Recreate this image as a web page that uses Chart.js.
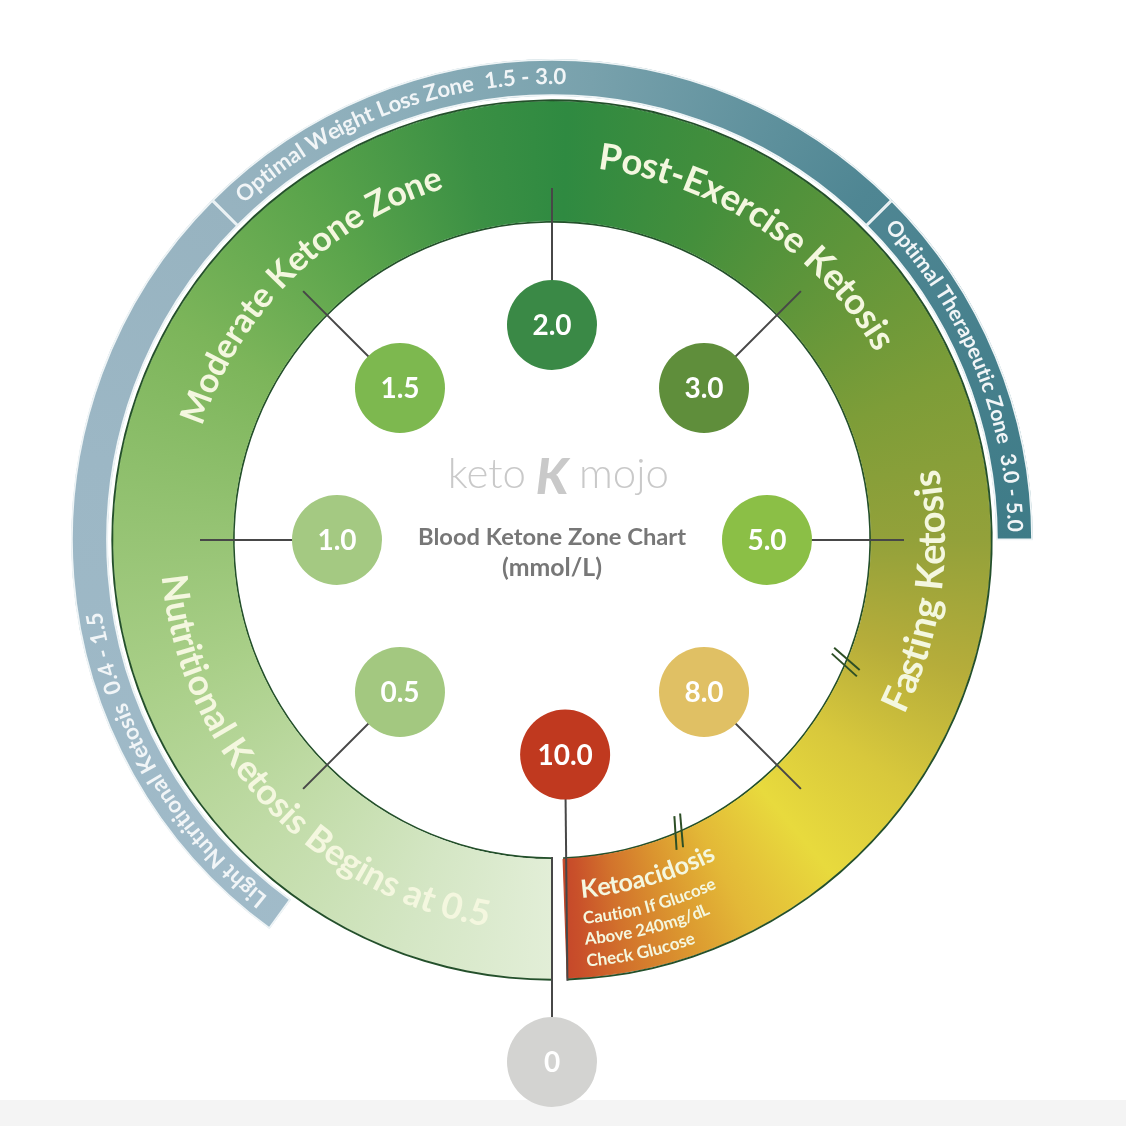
<!DOCTYPE html>
<html>
<head>
<meta charset="utf-8">
<title>Blood Ketone Zone Chart</title>
<script src="https://cdn.jsdelivr.net/npm/chart.js@4.4.0/dist/chart.umd.min.js"></script>
<style>
    html, body { margin: 0; padding: 0; background: #ffffff; }
    #wrap { position: relative; width: 1126px; height: 1126px; overflow: hidden; }
    #wrap canvas { position: absolute; left: 0; top: 0; }
    #floor { position: absolute; left: 0; right: 0; top: 1100px; bottom: 0; background: #f4f4f4; }
</style>
</head>
<body>
<div id="wrap">
    <div id="floor"></div>
    <canvas id="ringChart" width="1126" height="1126"></canvas>
    <canvas id="markerChart" width="1126" height="1126"></canvas>
</div>
<script>
// Readings shown round the dial (mmol/L), one eighth of the dial apart
const tickValues = [0, 0.5, 1.0, 1.5, 2.0, 3.0, 5.0, 8.0, 10.0];
const tickLabels = ['0', '0.5', '1.0', '1.5', '2.0', '3.0', '5.0', '8.0', '10.0'];

// Outer blue bands
const bandNames = ['Light Nutritional Ketosis  0.4 - 1.5', 'Optimal Weight Loss Zone  1.5 - 3.0', 'Optimal Therapeutic Zone  3.0 - 5.0'];
const bandRanges = [[0.4, 1.5], [1.5, 3.0], [3.0, 5.0]];

// Coloured ring zones
const zoneNames = ['Nutritional Ketosis Begins at 0.5', 'Moderate Ketone Zone', 'Post-Exercise Ketosis', 'Fasting Ketosis', 'Ketoacidosis'];
const zoneRanges = [[0, 1.0], [1.0, 2.0], [2.0, 5.0], [5.0, 8.7], [8.7, 10.0]];
const ketoNotes = ['Caution If Glucose', 'Above 240mg/dL', 'Check Glucose'];

// Scale breaks drawn on the inner edge of the ring
const scaleBreaks = [[5.0, 8.0], [8.0, 10.0]];

// Styling
const markerColors = ['#d3d3d1', '#a3c880', '#a4c982', '#7db84f', '#3a8946', '#5f8e3b', '#8bbf46', '#e0c064', '#c0391f'];
const STEP = 45;        // degrees between two readings
const RING_END = 358;   // the ring stops short of the bottom, leaving a slit
const CX = 552, CY = 540;
const MARKER_R = 215, ZERO_R = 522;
const RING_IN = 317, RING_OUT = 441;

// degrees clockwise from the bottom of the dial
function angleOf(v) {
    for (let i = 0; i < tickValues.length - 1; i++) {
        if (v <= tickValues[i + 1]) {
            const t = (v - tickValues[i]) / (tickValues[i + 1] - tickValues[i]);
            return Math.min((i + t) * STEP, RING_END);
        }
    }
    return RING_END;
}

function polar(r, deg) {
    const a = deg * Math.PI / 180;
    return { x: -r * Math.sin(a), y: -r * Math.cos(a) };
}

const gradCache = {};
function conic(chart, key, stops) {
    if (!gradCache[key]) {
        const g = chart.ctx.createConicGradient(Math.PI / 2, CX, CY);
        stops.forEach(s => g.addColorStop(s[0] / 360, s[1]));
        gradCache[key] = g;
    }
    return gradCache[key];
}

const greenStops = [
    [0, '#e2eed7'], [20, '#d4e6c4'], [45, '#c0dba6'], [70, '#a9cf88'], [90, '#97c475'],
    [120, '#7cb55a'], [145, '#5aa44b'], [168, '#3b9044'], [182, '#2f8a41'], [205, '#448f3c'],
    [225, '#5e953a'], [248, '#7d9d38'], [270, '#93a13a'], [288, '#b6ad3a'], [305, '#d8c83c'],
    [320, '#e8da3d'], [333, '#e3b837'], [342, '#db952f'], [350, '#d2722c'], [356, '#c9502a'], [360, '#c2402a']
];
const blueStops = [
    [0, '#a3bdcb'], [100, '#9cb7c5'], [136, '#97b3c0'], [160, '#8caeba'], [185, '#78a1ac'],
    [210, '#5c8f9b'], [222, '#4f8693'], [270, '#3e7b87'], [360, '#3e7b87']
];

// ---- ring chart ----
const bandSpans = [angleOf(bandRanges[0][0])];
bandRanges.forEach(r => bandSpans.push(angleOf(r[1]) - angleOf(r[0])));
bandSpans.push(360 - angleOf(bandRanges[bandRanges.length - 1][1]));

const zoneSpans = zoneRanges.map(r => angleOf(r[1]) - angleOf(r[0]));
zoneSpans.push(360 - RING_END);

const clear = 'rgba(0,0,0,0)';
const lastBand = bandSpans.length - 1;
const lastZone = zoneSpans.length - 1;

function drawArcText(ctx, cx, cy, o) {
    const cw = o.to > o.from;
    let size = o.size || 30;
    ctx.font = `${o.weight} ${size}px ${o.family}`;
    if (o.fit !== false) {
        const want = Math.abs(o.to - o.from) * Math.PI / 180 * o.r;
        size = size * want / ctx.measureText(o.text).width;
        ctx.font = `${o.weight} ${size}px ${o.family}`;
    }
    ctx.fillStyle = o.color;
    ctx.textAlign = 'center';
    ctx.textBaseline = 'alphabetic';
    const phi0 = (90 + o.from) * Math.PI / 180;
    for (let i = 0; i < o.text.length; i++) {
        const ch = o.text[i];
        const pre = ctx.measureText(o.text.slice(0, i)).width;
        const w = ctx.measureText(ch).width;
        const d = (pre + w / 2) / o.r;
        const phi = cw ? phi0 + d : phi0 - d;
        ctx.save();
        ctx.translate(cx + o.r * Math.cos(phi), cy + o.r * Math.sin(phi));
        ctx.rotate(cw ? phi + Math.PI / 2 : phi - Math.PI / 2);
        ctx.fillText(ch, 0, 0);
        ctx.restore();
    }
}

function fitText(ctx, text, weight, family, width) {
    ctx.font = `${weight} 20px ${family}`;
    const s = 20 * width / ctx.measureText(text).width;
    ctx.font = `${weight} ${s}px ${family}`;
}

const ringTextPlugin = {
    id: 'ringText',
    afterDatasetsDraw(chart) {
        const ctx = chart.ctx;
        const cx = CX, cy = CY;
        const band = '#f1f5f7', cream = '#f4f7df';
        ctx.save();
        // blue band titles
        drawArcText(ctx, cx, cy, { text: bandNames[0], r: 456, from: 38.5, to: 81, weight: 700, family: 'Lato', color: band });
        drawArcText(ctx, cx, cy, { text: bandNames[1], r: 456, from: 137.5, to: 181.8, weight: 700, family: 'Lato', color: band });
        drawArcText(ctx, cx, cy, { text: bandNames[2], r: 456, from: 226.8, to: 269, weight: 700, family: 'Lato', color: band });
        // zone titles
        drawArcText(ctx, cx, cy, { text: zoneNames[0], r: 392, from: 84.7, to: 9.4, weight: 700, family: 'Lato', color: cream });
        drawArcText(ctx, cx, cy, { text: zoneNames[1], r: 368, from: 108, to: 163, weight: 700, family: 'Lato', color: cream });
        drawArcText(ctx, cx, cy, { text: zoneNames[2], r: 374, from: 187, to: 240, weight: 700, family: 'Lato', color: cream });
        drawArcText(ctx, cx, cy, { text: zoneNames[3], r: 393, from: 296.4, to: 259.5, weight: 700, family: 'Lato', color: cream });
        drawArcText(ctx, cx, cy, { text: zoneNames[4], r: 359, from: 355.3, to: 332.7, weight: 700, family: 'Lato', color: cream });
        drawArcText(ctx, cx, cy, { text: ketoNotes[0], r: 385, from: 355.3, to: 334.6, weight: 700, family: 'Lato', color: cream });
        drawArcText(ctx, cx, cy, { text: ketoNotes[1], r: 406, from: 355.3, to: 337, weight: 700, family: 'Lato', color: cream });
        drawArcText(ctx, cx, cy, { text: ketoNotes[2], r: 428, from: 355.3, to: 340.3, weight: 700, family: 'Lato', color: cream });

        // centre logo and title
        ctx.fillStyle = '#c9c9c9';
        ctx.textBaseline = 'alphabetic';
        ctx.font = '300 42px Lato';
        ctx.textAlign = 'right';
        ctx.fillText('keto', cx - 26, cy - 52);
        ctx.textAlign = 'left';
        ctx.fillText('mojo', cx + 27, cy - 52);
        ctx.textAlign = 'center';
        ctx.font = 'italic 900 50px Lato';
        ctx.fillText('K', cx, cy - 46);

        ctx.fillStyle = '#777777';
        fitText(ctx, 'Blood Ketone Zone Chart', 700, 'Lato', 268);
        ctx.fillText('Blood Ketone Zone Chart', cx, cy + 5);
        fitText(ctx, '(mmol/L)', 700, 'Lato', 100);
        ctx.fillText('(mmol/L)', cx, cy + 36);
        ctx.restore();
    }
};

const ringChart = new Chart(document.getElementById('ringChart'), {
    type: 'doughnut',
    data: {
        labels: bandSpans.map((_, i) => i),
        datasets: [
            {
                // blue bands
                data: bandSpans,
                weight: 37,
                backgroundColor: c => (c.dataIndex === 0 || c.dataIndex === lastBand) ? clear : conic(c.chart, 'blue', blueStops),
                borderColor: '#eef4f6',
                borderWidth: bandSpans.map((_, i) => (i === 0 || i === lastBand) ? 0 : 1.5),
                borderAlign: 'inner'
            },
            { data: [360], weight: 3, backgroundColor: clear, borderWidth: 0, borderAlign: 'inner' },
            { data: [RING_END, 360 - RING_END], weight: 2.5, backgroundColor: ['#24502b', clear], borderWidth: 0, borderAlign: 'inner' },
            {
                // coloured zones, stroked in their own colour so no seams show between them
                data: zoneSpans,
                weight: 119,
                backgroundColor: c => c.dataIndex === lastZone ? clear : conic(c.chart, 'green', greenStops),
                borderColor: c => c.dataIndex === lastZone ? clear : conic(c.chart, 'green', greenStops),
                borderWidth: zoneSpans.map((_, i) => i === lastZone ? 0 : 1.2),
                borderAlign: 'center'
            },
            { data: [RING_END, 360 - RING_END], weight: 2.5, backgroundColor: ['#24502b', clear], borderWidth: 0, borderAlign: 'inner' }
        ]
    },
    options: {
        responsive: false,
        animation: false,
        events: [],
        rotation: 180,
        cutout: RING_IN,
        layout: { padding: { left: CX - 481, top: CY - 481, right: 1126 - CX - 481, bottom: 1126 - CY - 481 } },
        plugins: { legend: { display: false }, tooltip: { enabled: false } }
    },
    plugins: [ringTextPlugin]
});

// ---- markers, spokes and breaks ----
const lastTick = tickValues.length - 1;
// the top reading sits just past the slit, so nudge it onto the red end of the ring
function markerAngle(i) {
    return i === lastTick ? RING_END - 1.5 : angleOf(tickValues[i]);
}
const markerPoints = tickValues.map((v, i) => polar(i === 0 ? ZERO_R : MARKER_R, markerAngle(i)));

const lineSets = tickValues.map((v, i) => {
    const deg = markerAngle(i);
    let from = polar(MARKER_R, deg), to = polar(352, deg);
    if (i === 0) { from = polar(RING_IN, deg); to = polar(ZERO_R, deg); }
    if (i === lastTick) { to = polar(RING_OUT, RING_END); }
    return {
        type: 'scatter',
        data: [from, to],
        showLine: true,
        borderColor: '#474747',
        borderWidth: 2,
        pointRadius: 0,
        order: 1
    };
});

scaleBreaks.forEach(b => {
    const mid = (angleOf(b[0]) + angleOf(b[1])) / 2;
    [-0.6, 0.6].forEach(d => {
        lineSets.push({
            type: 'scatter',
            data: [polar(302, mid + d - 1.0), polar(334, mid + d + 1.0)],
            showLine: true,
            borderColor: '#2d4f26',
            borderWidth: 2,
            pointRadius: 0,
            order: 1
        });
    });
});

const markerTextPlugin = {
    id: 'markerText',
    afterDatasetsDraw(chart) {
        const ctx = chart.ctx;
        const meta = chart.getDatasetMeta(0);
        ctx.save();
        ctx.fillStyle = '#ffffff';
        ctx.textAlign = 'center';
        ctx.textBaseline = 'middle';
        ctx.font = 'bold 28px Lato';
        meta.data.forEach((pt, i) => {
            ctx.fillText(tickLabels[i], pt.x, pt.y + 1);
        });
        ctx.restore();
    }
};

const markerChart = new Chart(document.getElementById('markerChart'), {
    type: 'scatter',
    data: {
        datasets: [
            {
                data: markerPoints,
                pointRadius: 45,
                pointHoverRadius: 45,
                pointBackgroundColor: markerColors,
                pointBorderWidth: 0,
                order: 0,
                clip: false
            }
        ].concat(lineSets)
    },
    options: {
        responsive: false,
        animation: false,
        events: [],
        layout: { padding: 0, autoPadding: false },
        scales: {
            x: { type: 'linear', min: -CX, max: 1126 - CX, display: false },
            y: { type: 'linear', min: CY - 1126, max: CY, display: false }
        },
        plugins: { legend: { display: false }, tooltip: { enabled: false } }
    },
    plugins: [markerTextPlugin]
});
</script>
</body>
</html>
